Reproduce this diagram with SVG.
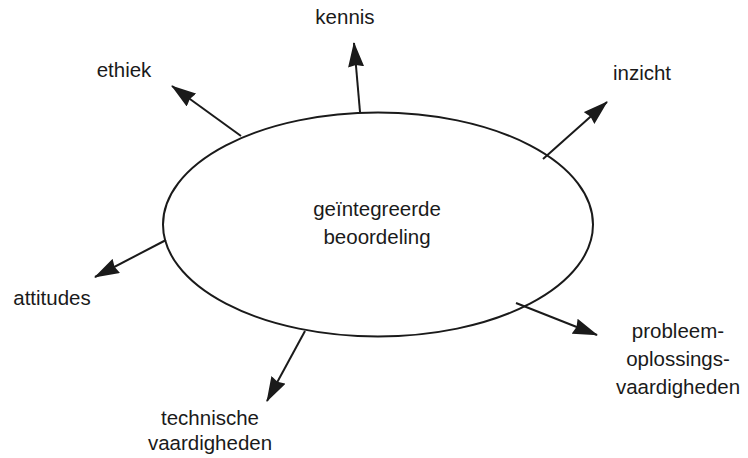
<svg xmlns="http://www.w3.org/2000/svg" width="748" height="458" viewBox="0 0 748 458">
  <style>
    text { font-family: "Liberation Sans", Arial, sans-serif; font-size: 20.5px; fill: #1a1a1a; }
    .c { text-anchor: middle; }
    .edge { stroke: #1a1a1a; stroke-width: 2; fill: none; }
  </style>
  <defs>
    <marker id="arrow" viewBox="0 0 25 16" refX="24" refY="8" markerWidth="25" markerHeight="16" markerUnits="userSpaceOnUse" orient="auto">
      <path d="M0,0 L25,8 L0,16 L2,8 Z" fill="#1a1a1a"/>
    </marker>
  </defs>
  <rect width="748" height="458" fill="#ffffff"/>

  <g id="centre">
    <ellipse cx="378" cy="224.5" rx="215" ry="112" fill="none" stroke="#1a1a1a" stroke-width="2"/>
    <text class="c" x="377" y="216">geïntegreerde</text>
    <text class="c" x="377" y="244">beoordeling</text>
  </g>

  <g id="connectors">
    <line class="edge" x1="360" y1="112" x2="354" y2="43" marker-end="url(#arrow)"/>
    <line class="edge" x1="241" y1="136" x2="172" y2="86" marker-end="url(#arrow)"/>
    <line class="edge" x1="543" y1="159" x2="607" y2="102" marker-end="url(#arrow)"/>
    <line class="edge" x1="166" y1="240" x2="95" y2="277" marker-end="url(#arrow)"/>
    <line class="edge" x1="516" y1="303" x2="597" y2="335" marker-end="url(#arrow)"/>
    <line class="edge" x1="305" y1="331" x2="267" y2="401" marker-end="url(#arrow)"/>
  </g>

  <g id="kennis"><text class="c" x="345" y="24">kennis</text></g>
  <g id="ethiek"><text class="c" x="124" y="77">ethiek</text></g>
  <g id="inzicht"><text class="c" x="642" y="80">inzicht</text></g>
  <g id="attitudes"><text class="c" x="52" y="305">attitudes</text></g>
  <g id="technische">
    <text class="c" x="210" y="425">technische</text>
    <text class="c" x="210" y="450">vaardigheden</text>
  </g>
  <g id="probleem">
    <text class="c" x="678" y="338">probleem-</text>
    <text class="c" x="678" y="366">oplossings-</text>
    <text class="c" x="678" y="394">vaardigheden</text>
  </g>
</svg>
